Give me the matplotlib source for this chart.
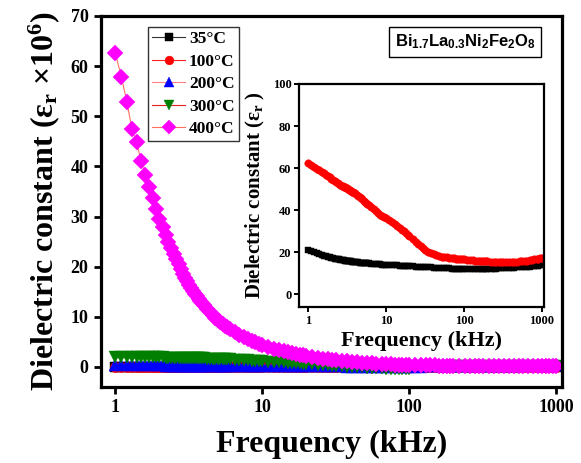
import matplotlib
matplotlib.use("Agg")
import matplotlib.pyplot as plt
import numpy as np
from matplotlib.ticker import FixedLocator, NullLocator, FixedFormatter

plt.rcParams['font.family'] = ['Liberation Serif', 'DejaVu Serif']
plt.rcParams['font.weight'] = 'bold'
plt.rcParams['mathtext.fontset'] = 'custom'
plt.rcParams['mathtext.rm'] = 'Liberation Serif:bold'
plt.rcParams['mathtext.it'] = 'Liberation Serif:bold'
plt.rcParams['mathtext.bf'] = 'Liberation Serif:bold'
plt.rcParams['mathtext.sf'] = 'Liberation Sans:bold'

# Measurement frequencies (kHz)
freq_khz = [
    1.0, 1.1, 1.2, 1.3, 1.4, 1.5, 1.6, 1.7, 1.8, 1.9, 2.0, 2.1, 2.2, 2.3, 2.4, 2.5,
    2.6, 2.7, 2.8, 2.9, 3.0, 3.1, 3.2, 3.3, 3.4, 3.5, 3.6, 3.7, 3.8, 3.9, 4.0, 4.2,
    4.4, 4.6, 4.8, 5.0, 5.2, 5.4, 5.6, 5.8, 6.0, 6.5, 7.0, 7.5, 8.0, 8.5, 9.0, 9.5,
    10, 11, 12, 13, 14, 15, 16, 17, 18, 19, 20, 22, 24, 26, 28, 30,
    32, 35, 38, 41, 44, 48, 52, 56, 60, 65, 70, 75, 80, 85, 90, 95,
    100, 110, 120, 130, 140, 150, 160, 170, 180, 190, 200, 220, 240, 260, 280, 300,
    320, 350, 380, 410, 440, 480, 520, 560, 600, 650, 700, 750, 800, 850, 900, 950,
    1000,
]

# Dielectric constant (plain units) at 35 °C
eps_35 = [
    21.0, 20.5, 20.0, 19.5, 19.1, 18.7, 18.4, 18.1, 17.8, 17.6, 17.4, 17.2, 17.0, 16.85, 16.7, 16.6,
    16.5, 16.4, 16.3, 16.2, 16.1, 16.0, 15.9, 15.85, 15.8, 15.7, 15.65, 15.6, 15.5, 15.45, 15.4, 15.3,
    15.2, 15.1, 15.0, 14.95, 14.9, 14.85, 14.8, 14.75, 14.7, 14.6, 14.5, 14.4, 14.3, 14.25, 14.2, 14.15,
    14.1, 14.0, 13.9, 13.8, 13.75, 13.7, 13.6, 13.55, 13.5, 13.45, 13.4, 13.3, 13.2, 13.15, 13.1, 13.0,
    12.95, 12.9, 12.8, 12.75, 12.7, 12.6, 12.55, 12.5, 12.45, 12.4, 12.3, 12.25, 12.2, 12.15, 12.1, 12.05,
    12.0, 12.0, 12.0, 12.0, 12.0, 12.0, 12.05, 12.05, 12.1, 12.1, 12.15, 12.2, 12.25, 12.3, 12.35, 12.4,
    12.45, 12.5, 12.6, 12.65, 12.7, 12.8, 12.9, 13.0, 13.05, 13.15, 13.25, 13.35, 13.45, 13.55, 13.65, 13.75,
    13.85,
]

# Dielectric constant (plain units) at 100 °C
eps_100 = [
    62.3, 61.5, 60.6, 59.8, 59.0, 58.3, 57.6, 56.9, 56.2, 55.6, 55.0, 54.4, 53.9, 53.4, 52.9, 52.4,
    52.0, 51.7, 51.4, 51.1, 50.9, 50.6, 50.4, 50.1, 49.8, 49.5, 49.2, 48.9, 48.6, 48.3, 48.0, 47.4,
    46.8, 46.2, 45.7, 45.1, 44.6, 44.1, 43.6, 43.1, 42.6, 41.5, 40.4, 39.5, 38.6, 37.9, 37.3, 36.8,
    36.3, 35.4, 34.6, 33.6, 32.6, 31.6, 30.8, 30.0, 29.2, 28.4, 27.6, 26.2, 24.9, 23.8, 22.8, 21.9,
    21.2, 20.3, 19.6, 19.1, 18.7, 18.3, 18.0, 17.8, 17.6, 17.4, 17.2, 17.1, 17.0, 16.9, 16.8, 16.7,
    16.6, 16.4, 16.3, 16.2, 16.1, 16.0, 15.9, 15.85, 15.8, 15.75, 15.7, 15.6, 15.55, 15.5, 15.5, 15.45,
    15.45, 15.45, 15.5, 15.5, 15.55, 15.6, 15.7, 15.8, 15.9, 16.0, 16.2, 16.4, 16.6, 16.8, 17.0, 17.2,
    17.4,
]

# Dielectric constant (x10^6) at 200 °C
eps_200 = [
    0.32, 0.32, 0.31, 0.31, 0.31, 0.30, 0.30, 0.30, 0.29, 0.29, 0.29, 0.29, 0.28, 0.28, 0.28, 0.27,
    0.27, 0.27, 0.27, 0.26, 0.26, 0.26, 0.26, 0.25, 0.25, 0.25, 0.25, 0.25, 0.24, 0.24, 0.24, 0.24,
    0.24, 0.23, 0.23, 0.23, 0.23, 0.22, 0.22, 0.22, 0.22, 0.21, 0.21, 0.20, 0.20, 0.20, 0.19, 0.19,
    0.19, 0.18, 0.18, 0.17, 0.17, 0.16, 0.16, 0.15, 0.15, 0.14, 0.14, 0.13, 0.12, 0.12, 0.11, 0.10,
    0.10, 0.09, 0.08, 0.08, 0.07, 0.07, 0.06, 0.06, 0.06, 0.05, 0.05, 0.05, 0.05, 0.05, 0.05, 0.05,
    0.06, 0.07, 0.08, 0.09, 0.10, 0.11, 0.12, 0.13, 0.14, 0.15, 0.16, 0.17, 0.18, 0.19, 0.20, 0.21,
    0.22, 0.23, 0.24, 0.25, 0.26, 0.27, 0.28, 0.29, 0.30, 0.31, 0.32, 0.33, 0.34, 0.35, 0.36, 0.37,
    0.38,
]

# Dielectric constant (x10^6) at 300 °C
eps_300 = [
    2.00, 2.00, 1.98, 1.97, 1.96, 1.95, 1.94, 1.93, 1.92, 1.91, 1.90, 1.89, 1.88, 1.87, 1.86, 1.85,
    1.84, 1.83, 1.82, 1.81, 1.80, 1.79, 1.78, 1.77, 1.76, 1.75, 1.74, 1.73, 1.72, 1.71, 1.70, 1.68,
    1.66, 1.64, 1.62, 1.60, 1.58, 1.56, 1.54, 1.52, 1.50, 1.45, 1.40, 1.35, 1.30, 1.26, 1.22, 1.18,
    1.15, 1.08, 1.02, 0.96, 0.90, 0.85, 0.80, 0.75, 0.70, 0.66, 0.62, 0.54, 0.46, 0.40, 0.34, 0.28,
    0.22, 0.15, 0.08, 0.02, -0.04, -0.10, -0.16, -0.20, -0.25, -0.30, -0.34, -0.38, -0.42, -0.45, -0.48, -0.50,
    -0.45, -0.10, 0.00, 0.03, 0.05, 0.06, 0.07, 0.08, 0.09, 0.10, 0.10, 0.11, 0.12, 0.12, 0.13, 0.13,
    0.14, 0.14, 0.15, 0.15, 0.16, 0.16, 0.17, 0.17, 0.18, 0.18, 0.18, 0.19, 0.19, 0.19, 0.20, 0.20,
    0.20,
]

# Dielectric constant (x10^6) at 400 °C
eps_400 = [
    62.6, 57.9, 52.9, 47.4, 44.8, 41.0, 38.3, 35.8, 33.7, 31.6, 29.6, 27.9, 26.4, 25.0, 23.8, 22.6,
    21.5, 20.5, 19.5, 18.6, 17.8, 17.1, 16.4, 15.8, 15.2, 14.6, 14.1, 13.6, 13.1, 12.7, 12.3, 11.6,
    10.9, 10.3, 9.8, 9.3, 8.9, 8.5, 8.2, 7.9, 7.6, 7.0, 6.4, 6.0, 5.6, 5.2, 4.9, 4.6,
    4.3, 3.9, 3.6, 3.3, 3.1, 2.9, 2.75, 2.6, 2.45, 2.3, 2.2, 2.0, 1.8, 1.65, 1.5, 1.4,
    1.3, 1.2, 1.1, 1.0, 0.92, 0.85, 0.78, 0.72, 0.66, 0.60, 0.55, 0.50, 0.46, 0.43, 0.40, 0.37,
    0.35, 0.33, 0.32, 0.31, 0.30, 0.29, 0.28, 0.28, 0.27, 0.27, 0.26, 0.25, 0.25, 0.24, 0.24, 0.23,
    0.23, 0.22, 0.22, 0.21, 0.21, 0.20, 0.20, 0.20, 0.19, 0.19, 0.19, 0.18, 0.18, 0.18, 0.18, 0.17,
    0.17,
]

temps = ['35°C', '100°C', '200°C', '300°C', '400°C']
x_ticks = [1, 10, 100, 1000]
x_tick_labels = ['1', '10', '100', '1000']

f = np.array(freq_khz)
main_series = [np.array(eps_35) * 1e-6, np.array(eps_100) * 1e-6,
               np.array(eps_200), np.array(eps_300), np.array(eps_400)]
markers = ['s', 'o', '^', 'v', 'D']
msizes = [7, 7.5, 8, 8, 8]
mcolors = ['black', '#ff0000', '#0000ff', '#007f00', '#ff00ff']
lcolors = ['#333333', '#ff2020', '#ff8080', '#e02020', '#ff7060']

fig = plt.figure(figsize=(5.81, 4.63), dpi=100)
ax = fig.add_axes([101/581, 1-387/463, 461/581, 371/463])

for y, mk, ms, mc, lc, lab in zip(main_series, markers, msizes, mcolors, lcolors, temps):
    ax.plot(f, y, color=lc, lw=0.8, marker=mk, ms=ms, mfc=mc, mec=mc, mew=0.3, label=lab)

ax.set_xscale('log')
ax.set_xlim(0.8, 1100)
ax.set_ylim(-4, 70)
ax.xaxis.set_major_locator(FixedLocator(x_ticks))
ax.xaxis.set_major_formatter(FixedFormatter(x_tick_labels))
ax.xaxis.set_minor_locator(NullLocator())
ax.set_yticks(range(0, 71, 10))
for s in ax.spines.values():
    s.set_linewidth(2.3)
ax.tick_params(axis='both', which='major', direction='out', length=5, width=2,
               labelsize=13, pad=4)
ax.set_xlabel('Frequency (kHz)', fontsize=23, fontweight='bold', labelpad=10)
ax.set_ylabel('Dielectric constant (ε$_{\\mathrm{r}}$ ×10$^{\\mathrm{6}}$)',
              fontsize=23, fontweight='bold', labelpad=6)

leg = ax.legend(loc='upper left', bbox_to_anchor=(148/581, 1-27/463),
                bbox_transform=fig.transFigure, borderaxespad=0,
                prop={'family': 'Liberation Serif', 'weight': 'bold', 'size': 12.5},
                frameon=True, fancybox=False, edgecolor='black', handlelength=1.9,
                handletextpad=0.2, labelspacing=0.36, borderpad=0.25, markerscale=0.85)
leg.get_frame().set_linewidth(1.0)

fig.text(465/581, 1-42/463, r'$\mathsf{Bi_{1.7}La_{0.3}Ni_{2}Fe_{2}O_{8}}$',
         fontsize=12, ha='center', va='center',
         bbox=dict(boxstyle='square,pad=0.35', fc='white', ec='black', lw=1.0))

# Inset: low-temperature curves in plain units
axin = fig.add_axes([299/581, 1-307/463, 245/581, 223/463])
axin.plot(f, eps_35, color='#333333', lw=0.6, marker='s', ms=4.6, mfc='black', mec='black', mew=0.3)
axin.plot(f, eps_100, color='#ff2020', lw=0.6, marker='o', ms=5.4, mfc='#ff0000', mec='#ff0000', mew=0.3)
axin.set_xscale('log')
axin.set_xlim(0.77, 1060)
axin.set_ylim(-6, 100)
axin.xaxis.set_major_locator(FixedLocator(x_ticks))
axin.xaxis.set_major_formatter(FixedFormatter(x_tick_labels))
axin.xaxis.set_minor_locator(NullLocator())
axin.set_yticks(range(0, 101, 20))
for s in axin.spines.values():
    s.set_linewidth(1.6)
axin.tick_params(axis='both', which='major', direction='out', length=3.5, width=1.4,
                 labelsize=9, pad=2)
axin.set_xlabel('Frequency (kHz)', fontsize=16, fontweight='bold', labelpad=3)
axin.set_ylabel('Dielectric constant (ε$_{\\mathrm{r}}$ )', fontsize=15, fontweight='bold', labelpad=4)

fig.savefig('out.png', dpi=100)
